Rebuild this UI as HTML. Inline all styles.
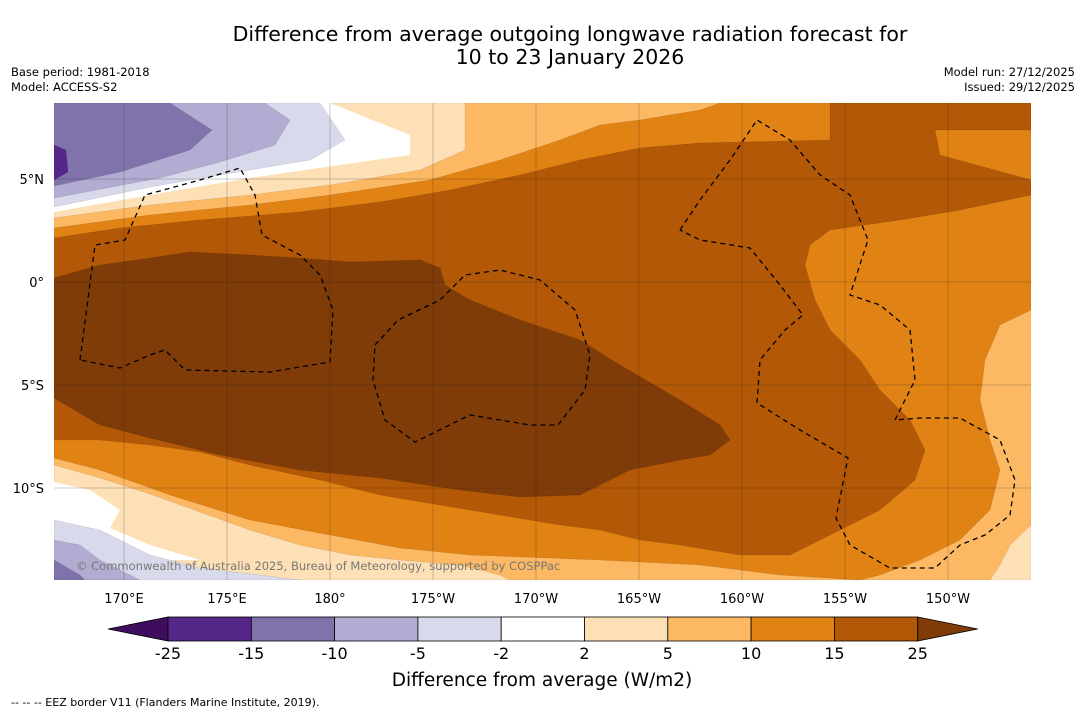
<!DOCTYPE html>
<html><head><meta charset="utf-8"><style>
body{margin:0;background:#fff;font-family:"DejaVu Sans","Liberation Sans",sans-serif}
svg{display:block}
</style></head><body>
<svg id="c" width="1085" height="713" xmlns="http://www.w3.org/2000/svg" font-family="DejaVu Sans, Liberation Sans, sans-serif">
<text x="570" y="41" font-size="20.5" text-anchor="middle">Difference from average outgoing longwave radiation forecast for</text>
<text x="570" y="64" font-size="20.5" text-anchor="middle">10 to 23 January 2026</text>
<text x="11" y="76" font-size="11.5">Base period: 1981-2018</text>
<text x="11" y="91" font-size="11.5">Model: ACCESS-S2</text>
<text x="1075" y="76" font-size="11.5" text-anchor="end">Model run: 27/12/2025</text>
<text x="1075" y="91" font-size="11.5" text-anchor="end">Issued: 29/12/2025</text>
<defs><clipPath id="mc"><rect x="54" y="103" width="977" height="477"/></clipPath></defs>
<g id="map" clip-path="url(#mc)"></g>
<g id="grid"></g>
<g id="eez"></g>
<text x="76" y="570" font-size="11.5" fill="#777">© Commonwealth of Australia 2025, Bureau of Meteorology, supported by COSPPac</text>
<g id="axes"></g>
<g id="cbar"></g>
<text x="542" y="686" font-size="18.5" text-anchor="middle">Difference from average (W/m2)</text>
<text x="11" y="706" font-size="11">--  --  -- EEZ border V11 (Flanders Marine Institute, 2019).</text>
</svg>
<script>
const lonTicks=[170,175,180,185,190,195,200,205,210];
const lonLabels=["170°E","175°E","180°","175°W","170°W","165°W","160°W","155°W","150°W"];
const latTicks=[5,0,-5,-10];
const latLabels=["5°N","0°","5°S","10°S"];
const levels=["-25","-15","-10","-5","-2","2","5","10","15","25"];
const colors=["#542788","#8073ac","#b2abd2","#d8daeb","#ffffff","#fee0b6","#fdb863","#e08214","#b35806"];
const lowColor="#3f0d5e", highColor="#7f3b08";
const X=lon=>124+(lon-170)*20.6;
const Y=lat=>282-lat*20.6;
const NS="http://www.w3.org/2000/svg";
function mk(t,a,p){const e=document.createElementNS(NS,t);for(const k in a)e.setAttribute(k,a[k]);p.appendChild(e);return e;}
const regions=[
 ["#fdb863",[[54,103],[1031,103],[1031,580],[54,580]]],
 ["#e08214",[[54,228],[150,215],[250,205],[330,195],[430,180],[500,160],[560,140],[600,125],[640,120],[700,110],[720,103],[1031,103],[1031,310],[1000,325],[985,360],[980,400],[990,440],[1000,470],[990,510],[960,540],[920,560],[880,575],[860,580],[780,575],[700,565],[600,560],[470,555],[400,548],[330,535],[250,520],[170,495],[100,470],[54,458]]],
 ["#b35806",[[54,238],[120,228],[200,220],[300,212],[380,202],[450,190],[520,175],[580,160],[640,148],[700,143],[830,140],[830,103],[1031,103],[1031,130],[935,130],[940,155],[1031,180],[1031,195],[960,210],[900,220],[830,230],[810,245],[805,265],[815,300],[830,330],[860,360],[880,390],[910,420],[925,450],[915,480],[880,510],[830,535],[790,555],[740,555],[680,545],[640,540],[600,530],[560,525],[500,515],[440,505],[380,495],[320,480],[250,465],[200,452],[150,445],[100,440],[54,440]]],
 ["#7f3b08",[[54,278],[100,265],[150,258],[190,252],[250,255],[300,258],[350,262],[420,260],[440,268],[445,285],[470,300],[520,320],[580,340],[620,365],[680,400],[720,425],[730,440],[710,455],[680,460],[630,470],[600,485],[580,495],[520,497],[460,490],[380,478],[300,470],[220,455],[150,438],[100,425],[54,398]]],
 ["#fee0b6",[[54,103],[465,103],[465,150],[420,170],[330,185],[250,195],[150,205],[54,218]]],
 ["#ffffff",[[54,103],[330,103],[410,135],[410,155],[340,165],[250,178],[150,195],[54,212]]],
 ["#d8daeb",[[54,103],[320,103],[345,140],[310,160],[250,170],[150,187],[54,207]]],
 ["#b2abd2",[[54,103],[265,103],[290,120],[275,145],[220,162],[160,178],[54,198]]],
 ["#8073ac",[[54,103],[170,103],[212,130],[190,150],[120,172],[54,186]]],
 ["#542788",[[54,145],[66,150],[68,172],[54,180]]],
 ["#fee0b6",[[54,465],[100,478],[150,494],[200,512],[250,530],[300,545],[350,555],[400,560],[460,565],[500,575],[510,580],[54,580]]],
 ["#ffffff",[[54,482],[90,490],[120,510],[110,528],[150,545],[200,560],[54,560]]],
 ["#d8daeb",[[54,520],[100,530],[150,555],[200,568],[260,575],[300,580],[54,580]]],
 ["#b2abd2",[[54,540],[80,545],[100,560],[130,575],[140,580],[54,580]]],
 ["#8073ac",[[54,560],[80,575],[85,580],[54,580]]],
 ["#fee0b6",[[1031,525],[1010,545],[1000,565],[990,580],[1031,580]]]
];
const map=document.getElementById('map');
regions.forEach((r,i)=>{
 const p=mk('polygon',{points:r[1].map(q=>q.join(',')).join(' '),fill:r[0],stroke:r[0]==="#ffffff"?"none":"rgba(0,0,0,0.15)","stroke-width":0.5},map);
 
 
});
const grid=document.getElementById('grid');
lonTicks.forEach(l=>{const e=mk('line',{x1:X(l),x2:X(l),y1:103,y2:580,stroke:"#222","stroke-width":0.5,opacity:0.45},grid);
 });
latTicks.forEach(l=>{const e=mk('line',{x1:54,x2:1031,y1:Y(l),y2:Y(l),stroke:"#222","stroke-width":0.5,opacity:0.45},grid);
 });
const eezLines=[
 [[80,360],[95,245],[125,240],[145,195],[200,180],[240,168],[255,195],[262,235],[300,255],[320,275],[333,310],[330,362],[270,372],[185,370],[165,350],[150,355],[120,368],[80,360]],
 [[375,345],[398,320],[440,300],[465,275],[500,270],[540,280],[575,310],[590,355],[585,390],[558,425],[530,425],[470,415],[415,442],[385,420],[373,380],[375,345]],
 [[680,230],[700,200],[730,160],[757,120],[790,140],[820,175],[850,195],[868,240],[850,295],[880,305],[910,330],[915,380],[895,420],[920,418],[960,418],[1000,440],[1015,480],[1010,515],[985,535],[960,545],[935,568],[890,568],[850,545],[836,518],[848,458],[800,430],[757,403],[760,360],[785,330],[803,315],[780,285],[750,248],[700,240],[680,230]]
];
const eez=document.getElementById('eez');
eezLines.forEach(l=>{const e=mk('polyline',{points:l.map(q=>q.join(',')).join(' '),fill:"none",stroke:"#000","stroke-width":1.3,"stroke-dasharray":"5,4"},eez);
 });
const ax=document.getElementById('axes');
lonTicks.forEach((l,i)=>{const t=mk('text',{x:X(l),y:603,"font-size":13,"text-anchor":"middle"},ax);t.textContent=lonLabels[i];
 });
latTicks.forEach((l,i)=>{const t=mk('text',{x:44,y:Y(l)+5,"font-size":13,"text-anchor":"end"},ax);t.textContent=latLabels[i];
 });
const cb=document.getElementById('cbar');
const c0=168,cw=83.3,cy=617,ch=24;
const lt=mk('polygon',{points:`108,${cy+ch/2} ${c0},${cy} ${c0},${cy+ch}`,fill:lowColor,stroke:"#000","stroke-width":0.8},cb);

colors.forEach((c,i)=>{const r=mk('rect',{x:c0+i*cw,y:cy,width:cw,height:ch,fill:c,stroke:"#000","stroke-width":0.8},cb);
 });
const xe=c0+colors.length*cw;
const ht=mk('polygon',{points:`${xe},${cy} ${xe+60},${cy+ch/2} ${xe},${cy+ch}`,fill:highColor,stroke:"#000","stroke-width":0.8},cb);

levels.forEach((v,i)=>{const t=mk('text',{x:c0+i*cw,y:659,"font-size":16,"text-anchor":"middle"},cb);t.textContent=v;
 });
</script>
</body></html>
